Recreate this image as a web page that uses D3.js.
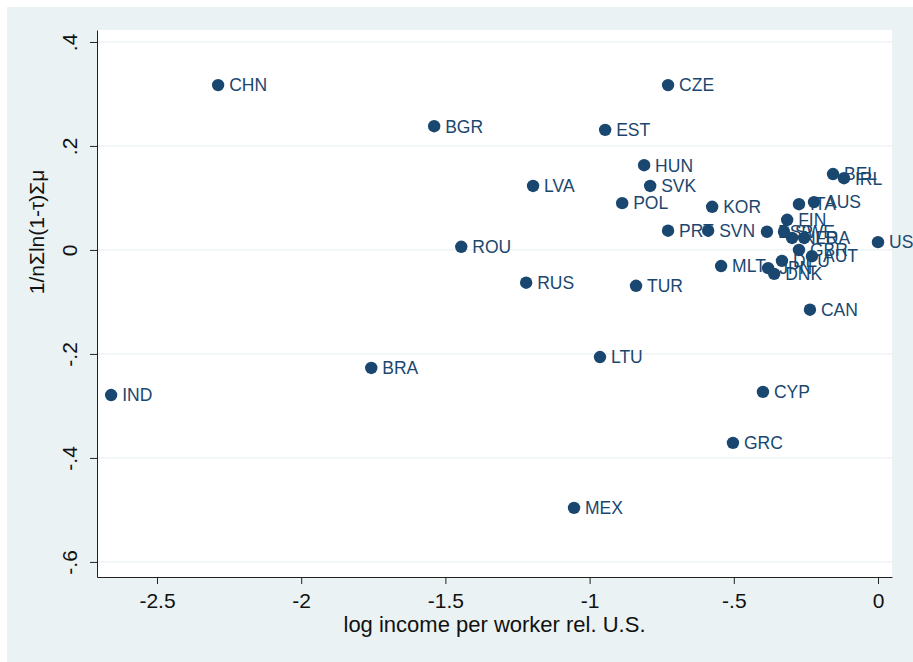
<!DOCTYPE html>
<html>
<head>
<meta charset="utf-8">
<script src="https://cdn.jsdelivr.net/npm/d3@7"></script>
<style>
  body { margin: 0; background: #fff; }
  text { font-family: "Liberation Sans", Arial, sans-serif; }
</style>
</head>
<body>
<div id="chart"></div>
<script>

// country codes, in drawing order
var countries = ["CHN", "CZE", "BGR", "EST", "HUN", "SVK", "LVA", "POL", "KOR", "PRT",
  "SVN", "ROU", "RUS", "TUR", "MLT", "CAN", "LTU", "BRA", "IND", "CYP",
  "GRC", "MEX", "USA", "BEL", "IRL", "ITA", "AUS", "FIN", "ESP", "SWE",
  "NLD", "FRA", "GBR", "AUT", "DEU", "JPN", "DNK"];

// log income per worker rel. U.S.
var incomeRel = [-2.288, -0.728, -1.539, -0.946, -0.811, -0.790, -1.196, -0.887, -0.575, -0.728,
  -0.589, -1.445, -1.220, -0.839, -0.544, -0.236, -0.964, -1.757, -2.659, -0.399,
  -0.503, -1.054, 0.000, -0.156, -0.118, -0.274, -0.222, -0.315, -0.385, -0.326,
  -0.298, -0.256, -0.274, -0.229, -0.333, -0.381, -0.360];

// 1/n sum ln(1-tau) sum mu
var wedge = [0.317, 0.317, 0.238, 0.231, 0.163, 0.123, 0.123, 0.090, 0.083, 0.037,
  0.037, 0.006, -0.063, -0.069, -0.031, -0.115, -0.206, -0.227, -0.279, -0.273,
  -0.371, -0.496, 0.015, 0.146, 0.138, 0.088, 0.092, 0.058, 0.035, 0.035,
  0.023, 0.023, 0.000, -0.012, -0.021, -0.035, -0.046];

// axis ticks
var xTicks = [-2.5, -2, -1.5, -1, -0.5, 0];
var xTickLabels = ["-2.5", "-2", "-1.5", "-1", "-.5", "0"];
var yTicks = [0.4, 0.2, 0, -0.2, -0.4, -0.6];
var yTickLabels = [".4", ".2", "0", "-.2", "-.4", "-.6"];

var navy = "#1a476f";
var plot = {left: 97, right: 892, top: 30, bottom: 577};

var svg = d3.select('#chart').append('svg')
  .attr('width', 913)
  .attr('height', 662);

// graph region background
svg.append('rect')
  .attr('x', 7).attr('y', 7)
  .attr('width', 906).attr('height', 655)
  .attr('fill', '#eaf2f3');

// plot region
svg.append('rect')
  .attr('x', plot.left).attr('y', plot.top)
  .attr('width', plot.right - plot.left)
  .attr('height', plot.bottom - plot.top)
  .attr('fill', '#fff');

var xScale = d3.scaleLinear()
  .domain([-2.708, 0.0485])
  .range([plot.left, plot.right]);

var yScale = d3.scaleLinear()
  .domain([-0.629, 0.423])
  .range([plot.bottom, plot.top]);

// horizontal grid lines
svg.selectAll('.grid')
  .data(yTicks)
  .enter()
  .append('line')
  .attr('class', 'grid')
  .attr('x1', plot.left)
  .attr('x2', plot.right)
  .attr('y1', function(d) { return yScale(d); })
  .attr('y2', function(d) { return yScale(d); })
  .attr('stroke', '#eaf2f3')
  .attr('stroke-width', 1.2);

// x axis
var xAxis = svg.append('g')
  .attr('transform', 'translate(0,' + plot.bottom + ')')
  .call(d3.axisBottom(xScale)
    .tickValues(xTicks)
    .tickFormat(function(d, i) { return xTickLabels[i]; })
    .tickSize(7)
    .tickSizeOuter(0)
    .tickPadding(9));
xAxis.selectAll('path, line').attr('stroke', '#222');
xAxis.selectAll('text')
  .attr('fill', '#111')
  .style('font-size', '21px');

// y axis, labels turned on their side
var yAxis = svg.append('g')
  .attr('transform', 'translate(' + plot.left + ',0)')
  .call(d3.axisLeft(yScale)
    .tickValues(yTicks)
    .tickFormat(function(d, i) { return yTickLabels[i]; })
    .tickSize(7)
    .tickSizeOuter(0));
yAxis.selectAll('path, line').attr('stroke', '#222');
yAxis.selectAll('text')
  .attr('x', null)
  .attr('dy', null)
  .attr('text-anchor', 'middle')
  .attr('transform', 'translate(-20,0) rotate(-90)')
  .attr('fill', '#111')
  .style('font-size', '21px');

// axis titles
svg.append('text')
  .attr('x', (plot.left + plot.right) / 2)
  .attr('y', 632)
  .attr('text-anchor', 'middle')
  .attr('fill', '#111')
  .style('font-size', '22px')
  .text('log income per worker rel. U.S.');

svg.append('text')
  .attr('transform', 'translate(44,232) rotate(-90)')
  .attr('text-anchor', 'middle')
  .attr('fill', '#111')
  .style('font-size', '21px')
  .text('1/nΣln(1-τ)Σμ');

// markers with labels, one group per country so later dots sit on earlier labels
var pts = svg.selectAll('.pt')
  .data(countries)
  .enter()
  .append('g')
  .attr('class', 'pt')
  .attr('transform', function(d, i) {
    return 'translate(' + xScale(incomeRel[i]) + ',' + yScale(wedge[i]) + ')';
  });

pts.append('circle')
  .attr('r', 6.2)
  .attr('fill', navy);

pts.append('text')
  .attr('x', 11)
  .attr('dy', '0.36em')
  .attr('fill', navy)
  .style('font-size', '17.5px')
  .text(function(d) { return d; });

</script>
</body>
</html>
